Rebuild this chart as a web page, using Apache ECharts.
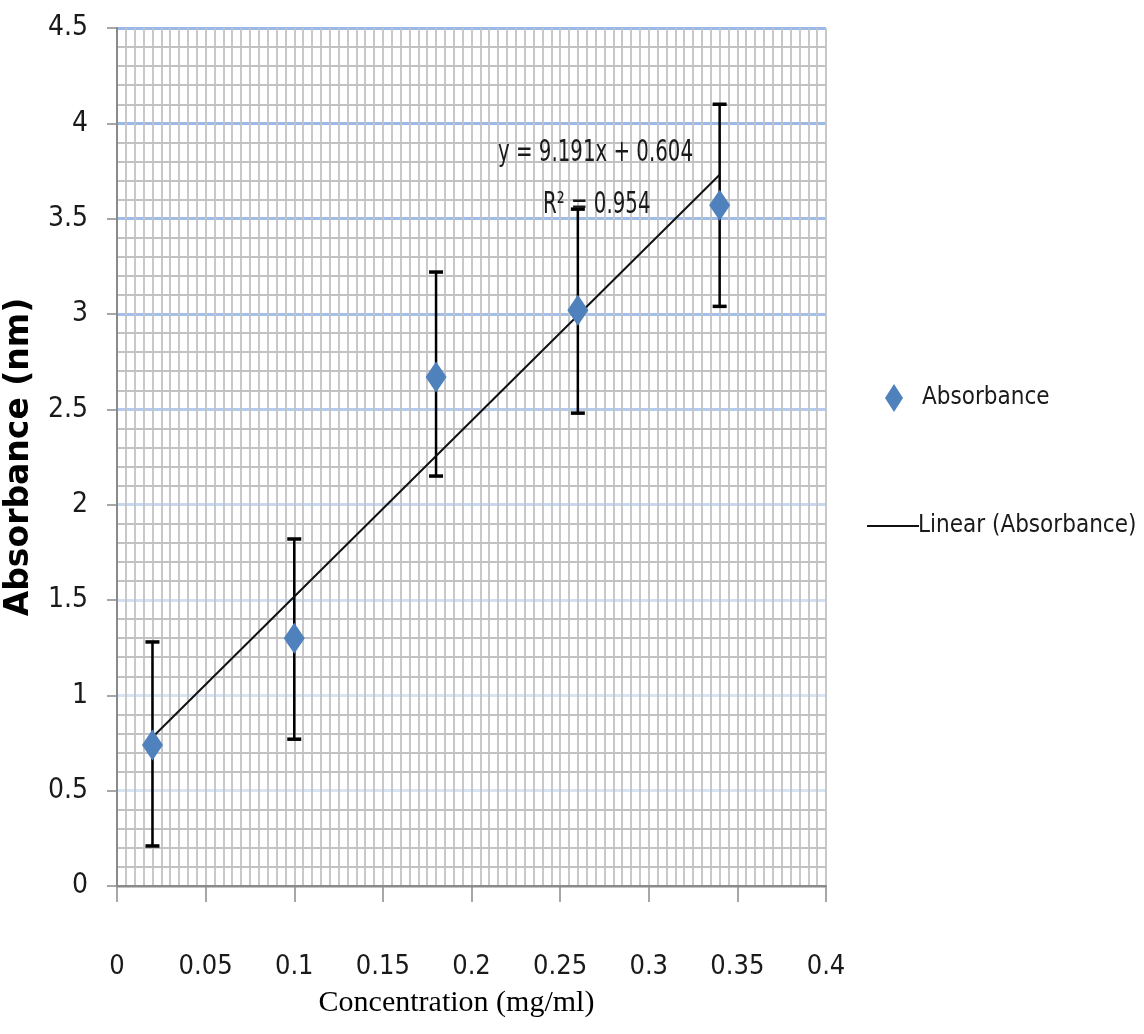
<!DOCTYPE html>
<html>
<head>
<meta charset="utf-8">
<script src="https://cdn.jsdelivr.net/npm/echarts@6/dist/echarts.min.js"></script>
<style>html,body{margin:0;padding:0;background:#fff;}#c{width:1144px;height:1034px;}</style>
</head>
<body>
<div id="c"></div>
<script>
// Data
const concentrations = [0.02, 0.10, 0.18, 0.26, 0.34];
const absorbance = [0.74, 1.30, 2.67, 3.02, 3.57];
const errLow = [0.21, 0.77, 2.15, 2.48, 3.04];
const errHigh = [1.28, 1.82, 3.22, 3.55, 4.10];
const trendX = [0.02, 0.34];
const trendY = [0.78, 3.73];
const equationText = 'y = 9.191x + 0.604';
const r2Text = 'R² = 0.954';

const narrow = '"DejaVu Sans Condensed", "Liberation Sans Narrow", "Liberation Sans", sans-serif';
const majorLineColors = ['#c4c4c4', '#d8e3f4', '#d8e3f4', '#d3dff3', '#c8d8f1', '#b5cbee', '#a3bfea', '#a0bde9', '#9bb9e8', '#9bb9e8'];

const chart = echarts.init(document.getElementById('c'), null, {renderer: 'canvas'});

const scatterData = concentrations.map((x, i) => [x, absorbance[i]]);
const errData = concentrations.map((x, i) => [x, errLow[i], errHigh[i]]);
const trendData = trendX.map((x, i) => [x, trendY[i]]);

chart.setOption({
  animation: false,
  backgroundColor: '#ffffff',
  grid: {left: 117, right: 318, top: 28, bottom: 148, containLabel: false, outerBoundsMode: 'none'},
  xAxis: {
    type: 'value', min: 0, max: 0.4, interval: 0.05,
    name: 'Concentration (mg/ml)', nameLocation: 'middle', nameGap: 102, nameMoveOverlap: false,
    nameTextStyle: {fontFamily: '"Liberation Serif", "Times New Roman", serif', fontSize: 30, color: '#000', padding: [0, 30, 0, 0]},
    axisLine: {show: true, onZero: false, lineStyle: {color: '#8a8a8a', width: 2}},
    axisTick: {show: true, length: 16, lineStyle: {color: '#8a8a8a', width: 1.5}},
    axisLabel: {margin: 67, fontFamily: narrow, fontSize: 27, color: '#1a1a1a'},
    splitLine: {show: true, lineStyle: {color: '#c2c2c2', width: 1.8}},
    minorTick: {show: false, splitNumber: 10},
    minorSplitLine: {show: true, lineStyle: {color: '#c2c2c2', width: 1.8}}
  },
  yAxis: {
    type: 'value', min: 0, max: 4.5, interval: 0.5,
    name: 'Absorbance (nm)', nameLocation: 'middle', nameGap: 81, nameRotate: 90,
    nameTextStyle: {fontFamily: '"DejaVu Sans", Verdana, sans-serif', fontWeight: 'bold', fontSize: 33, color: '#000'},
    axisLine: {show: true, lineStyle: {color: '#8a8a8a', width: 2}},
    axisTick: {show: true, length: 10, lineStyle: {color: '#8a8a8a', width: 1.5}},
    axisLabel: {margin: 29, fontFamily: narrow, fontSize: 28, color: '#1a1a1a'},
    splitLine: {show: true, lineStyle: {color: majorLineColors, width: 3}},
    minorTick: {show: false, splitNumber: 5},
    minorSplitLine: {show: true, lineStyle: {color: '#c2c2c2', width: 1.8}}
  },
  legend: [
    {
      data: [{name: 'Absorbance', icon: 'diamond'}],
      left: 880, top: 379, orient: 'vertical',
      itemWidth: 18, itemHeight: 28, itemGap: 10,
      textStyle: {fontFamily: narrow, fontSize: 24, color: '#1a1a1a', padding: [0, 0, 0, 14]}
    },
    {
      data: [{name: 'Linear (Absorbance)', icon: 'rect', itemStyle: {color: '#111', borderWidth: 0}}],
      left: 862, top: 509, orient: 'vertical',
      itemWidth: 52, itemHeight: 2,
      textStyle: {fontFamily: narrow, fontSize: 24, color: '#1a1a1a', padding: [0, 0, 0, -6]}
    }
  ],
  graphic: [
    {type: 'text', x: 498, y: 153, scaleY: 1.35, z: 10,
     style: {text: equationText, font: '22px ' + narrow, fill: '#1a1a1a', verticalAlign: 'middle', align: 'left'}},
    {type: 'text', x: 543, y: 205, scaleY: 1.35, z: 10,
     style: {text: r2Text, font: '22px ' + narrow, fill: '#1a1a1a', verticalAlign: 'middle', align: 'left'}}
  ],
  series: [
    {
      name: 'Error', type: 'custom', data: errData, z: 3,
      renderItem: function (params, api) {
        const x = api.value(0), lo = api.value(1), hi = api.value(2);
        const p1 = api.coord([x, hi]);
        const p2 = api.coord([x, lo]);
        const hw = 7;
        const st = {stroke: '#000', lineWidth: 2.5};
        const cap = {stroke: '#000', lineWidth: 3.5};
        return {
          type: 'group',
          children: [
            {type: 'line', shape: {x1: p1[0], y1: p1[1], x2: p2[0], y2: p2[1]}, style: st},
            {type: 'line', shape: {x1: p1[0] - hw, y1: p1[1], x2: p1[0] + hw, y2: p1[1]}, style: cap},
            {type: 'line', shape: {x1: p2[0] - hw, y1: p2[1], x2: p2[0] + hw, y2: p2[1]}, style: cap}
          ]
        };
      }
    },
    {
      name: 'Linear (Absorbance)', type: 'line', data: trendData, z: 4,
      symbol: 'none', lineStyle: {color: '#111', width: 2}, itemStyle: {color: '#111'}
    },
    {
      name: 'Absorbance', type: 'scatter', data: scatterData, z: 5,
      symbol: 'diamond', symbolSize: [21, 31],
      itemStyle: {color: '#4f81bd', opacity: 1}
    }
  ]
});
</script>
</body>
</html>
